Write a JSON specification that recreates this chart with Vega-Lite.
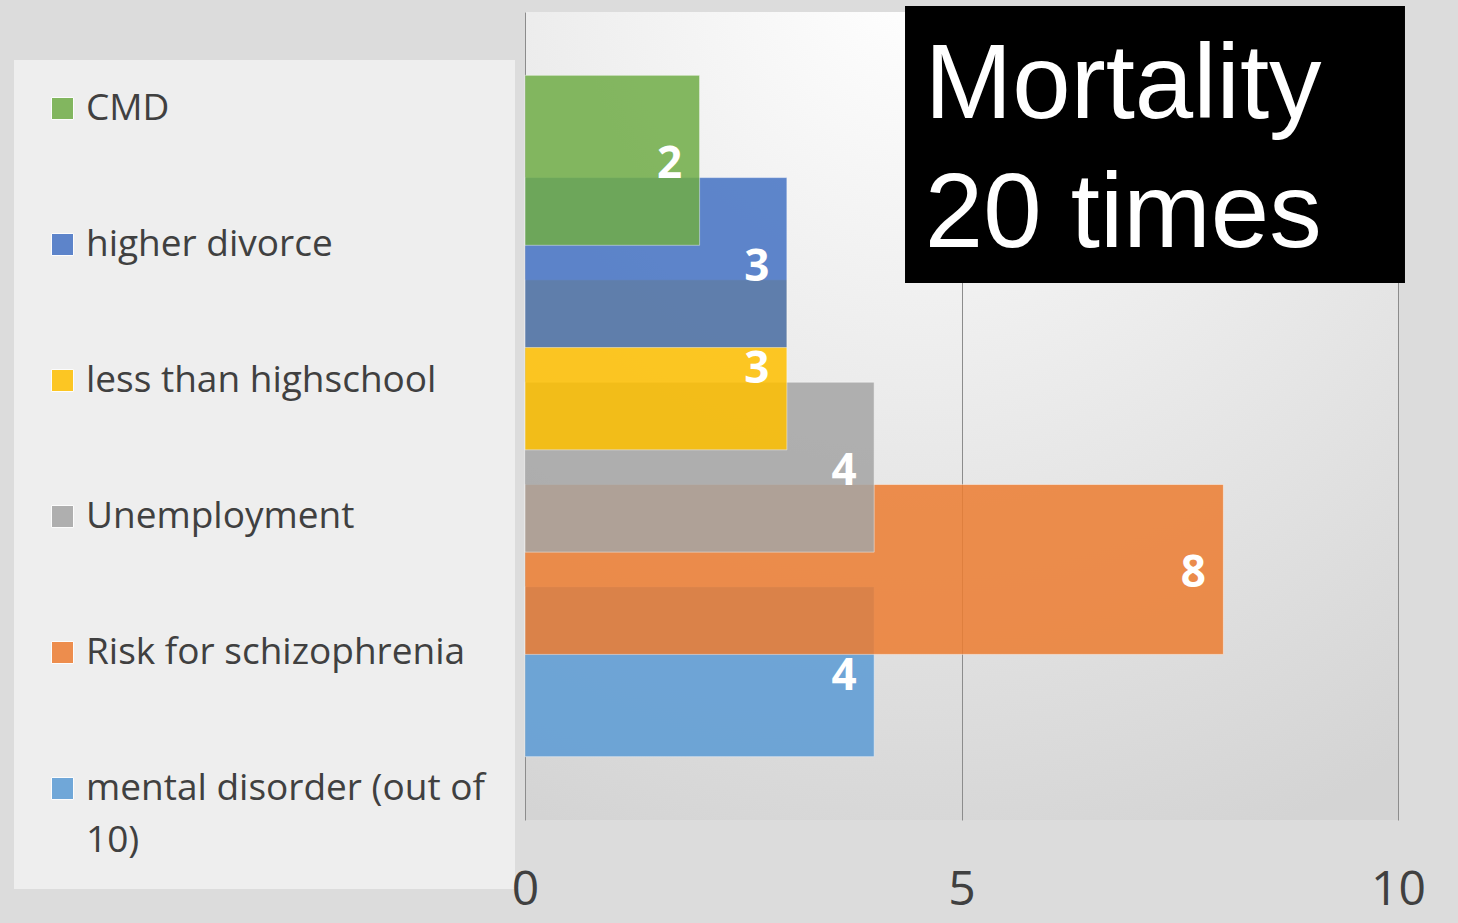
{
  "$schema": "https://vega.github.io/schema/vega-lite/v6.json",
  "width": 873,
  "height": 808,
  "autosize": "none",
  "padding": {"left": 525, "top": 12, "right": 60, "bottom": 103},
  "background": "#dcdcdc",
  "config": {
    "view": {
      "stroke": null,
      "fill": {"gradient": "radial", "x1": 0.45, "y1": 0, "r1": 0, "x2": 0.45, "y2": 0, "r2": 1.05,
        "stops": [{"offset": 0, "color": "#ffffff"}, {"offset": 1, "color": "#d4d4d4"}]}
    },
    "style": {"guide-label": {"lineHeight": 52}}
  },
  "data": {
    "values": [
      {"category": "mental disorder (out of 10)", "value": 4},
      {"category": "Risk for schizophrenia", "value": 8},
      {"category": "Unemployment", "value": 4},
      {"category": "less than highschool", "value": 3},
      {"category": "higher divorce", "value": 3},
      {"category": "CMD", "value": 2}
    ]
  },
  "layer": [
    {
      "layer": [
        {
          "mark": {"type": "bar", "height": 170, "opacity": 0.85, "stroke": "#ffffff", "strokeWidth": 1, "strokeOpacity": 0.5},
          "encoding": {
            "y": {"field": "category", "type": "nominal",
              "scale": {"domain": ["CMD", "higher divorce", "less than highschool", "Unemployment", "Risk for schizophrenia", "mental disorder (out of 10)"], "paddingInner": 0, "paddingOuter": 0.95},
              "axis": null},
            "x": {"field": "value", "type": "quantitative",
              "scale": {"domain": [0, 10], "nice": false},
              "axis": {"orient": "bottom", "values": [0, 5, 10], "title": null, "domain": false, "ticks": false, "grid": true,
                "gridColor": "#8c8c8c", "gridWidth": 1, "labels": false, "zindex": 0}},
            "color": {"field": "category", "type": "nominal",
              "scale": {"domain": ["CMD", "higher divorce", "less than highschool", "Unemployment", "Risk for schizophrenia", "mental disorder (out of 10)"],
                "range": ["#70AD47", "#4472C4", "#FFC000", "#A5A5A5", "#ED7D31", "#5B9BD5"]},
              "legend": {"orient": "none", "legendX": -511, "legendY": 48, "title": null, "padding": 30, "zindex": 0,
                "fillColor": "#eeeeee", "symbolType": "square", "symbolSize": 484, "symbolOpacity": 0.85,
                "symbolStrokeColor": "#ffffff", "symbolStrokeWidth": 1,
                "labelFont": "Open Sans", "labelFontSize": 37, "labelColor": "#404040", "labelOffset": 5,
                "labelLimit": 700, "rowPadding": 98,
                "labelExpr": "datum.label == 'mental disorder (out of 10)' ? ['mental disorder (out of', '10)'] : datum.label"}}
          }
        },
        {
          "mark": {"type": "text", "dx": -30, "dy": 5, "fontSize": 44, "fontWeight": "bold", "font": "Open Sans", "color": "#ffffff", "align": "center", "baseline": "middle"},
          "encoding": {
            "y": {"field": "category", "type": "nominal"},
            "x": {"field": "value", "type": "quantitative"},
            "text": {"field": "value", "type": "quantitative"}
          }
        }
      ]
    },
    {
      "data": {"values": [{}]},
      "layer": [
        {
          "mark": {"type": "rect", "color": "#000000", "opacity": 1},
          "encoding": {
            "x": {"datum": 4.353, "type": "quantitative",
              "axis": {"orient": "bottom", "values": [0, 5, 10], "format": "d", "title": null, "domain": false, "ticks": false, "grid": false,
                "labelFontSize": 48, "labelFont": "Open Sans", "labelColor": "#404040", "labelPadding": 46,
                "labelFlush": false, "zindex": 2}},
            "x2": {"datum": 10.08},
            "y": {"datum": -0.0074, "type": "quantitative", "scale": {"domain": [0, 1], "reverse": true}, "axis": null},
            "y2": {"datum": 0.3354}
          }
        },
        {
          "mark": {"type": "text", "font": "Liberation Sans", "fontSize": 105, "color": "#ffffff", "align": "left", "baseline": "alphabetic", "lineHeight": 129},
          "encoding": {
            "x": {"datum": 4.58, "type": "quantitative"},
            "y": {"datum": 0.131, "type": "quantitative"},
            "text": {"value": ["Mortality", "20 times"]}
          }
        }
      ]
    }
  ],
  "resolve": {"scale": {"y": "independent"}, "axis": {"x": "independent"}}
}
